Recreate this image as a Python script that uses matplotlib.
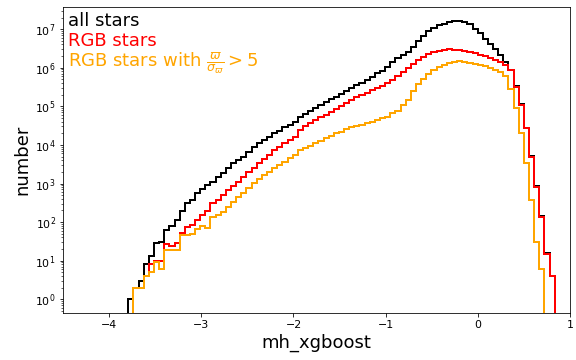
import matplotlib
matplotlib.use("Agg")
import matplotlib.pyplot as plt
import numpy as np

# === bins (shared by the three histograms) ===
mh_min, mh_max, n_bins = -3.79, 0.832, 83
edges = np.linspace(mh_min, mh_max, n_bins + 1)

# === counts per bin ===
all_stars = [
    1, 2, 3, 8, 13, 29, 31, 63, 80, 114,
    195, 309, 376, 561, 700, 920, 1120, 1510, 1850, 2500,
    3380, 4070, 5000, 6700, 8700, 11000, 13400, 15800, 20000, 23500,
    28700, 33000, 40000, 53000, 63500, 77000, 89000, 109000, 133000, 152000,
    178000, 210000, 250000, 295000, 357000, 410000, 480000, 590000, 720000, 840000,
    1070000, 1440000, 1770000, 2140000, 2600000, 3500000, 4900000, 6600000, 8700000, 10700000,
    12600000, 13800000, 15500000, 16600000, 16600000, 15100000, 13200000, 10200000, 7800000, 5600000,
    4100000, 3000000, 2140000, 1440000, 870000, 340000, 112000, 27500, 5300, 850,
    141, 16, 4,
]
rgb_stars = [
    0, 2, 2, 4, 8, 10, 10, 27, 24, 29,
    53, 74, 85, 114, 154, 190, 310, 376, 505, 680,
    870, 1120, 1510, 2030, 2580, 3380, 4270, 5500, 7400, 8700,
    11000, 13400, 16500, 24500, 31000, 36500, 44500, 52000, 60000, 73000,
    84000, 102000, 120000, 147000, 172000, 198000, 228000, 265000, 295000, 338000,
    398000, 480000, 600000, 760000, 955000, 1260000, 1580000, 1900000, 2290000, 2570000,
    2750000, 2950000, 3020000, 2950000, 2820000, 2690000, 2510000, 2340000, 2190000, 2000000,
    1820000, 1550000, 1380000, 1170000, 870000, 324000, 110000, 27000, 5000, 830,
    138, 15, 4,
]
rgb_good_plx = [
    0, 2, 2, 4, 5, 9, 6, 19, 19, 19,
    45, 45, 50, 65, 80, 70, 139, 154, 187, 252,
    339, 457, 560, 755, 1020, 1290, 1670, 2030, 2500, 3030,
    3700, 4540, 5500, 7400, 8200, 9400, 11000, 12900, 14800, 17000,
    20000, 22000, 25500, 28700, 31000, 33000, 36500, 40000, 44500, 49000,
    54000, 66000, 76000, 105000, 148000, 250000, 370000, 510000, 690000, 870000,
    1050000, 1200000, 1320000, 1410000, 1450000, 1380000, 1320000, 1260000, 1170000, 1100000,
    1000000, 890000, 790000, 600000, 275000, 89000, 20000, 3400, 380, 30,
    6, 0, 0,
]

series = [
    (all_stars, "black", "all stars"),
    (rgb_stars, "red", "RGB stars"),
    (rgb_good_plx, "orange", r"RGB stars with $\frac{\varpi}{\sigma_\varpi} > 5$"),
]

fig = plt.figure(figsize=(8, 5), dpi=72)
ax = fig.add_axes([0.109, 0.130, 0.881, 0.850])

centers = 0.5 * (edges[:-1] + edges[1:])
for counts, color, label in series:
    ax.hist(centers, bins=edges, weights=counts, histtype="step",
            color=color, linewidth=2, log=True)

# coloured text "legend" in the upper left
label_y = [0.955, 0.891, 0.818]
for (_, color, label), y in zip(series, label_y):
    ax.text(0.01, y, label, color=color, fontsize=18,
            transform=ax.transAxes, va="center", ha="left")

ax.set_xlim(-4.5, 1)
ax.set_ylim(0.436, 3.7e7)
ax.set_xlabel("mh_xgboost", fontsize=18)
ax.set_ylabel("number", fontsize=18)
ax.tick_params(labelsize=11)

fig.savefig("out.png", dpi=72)
